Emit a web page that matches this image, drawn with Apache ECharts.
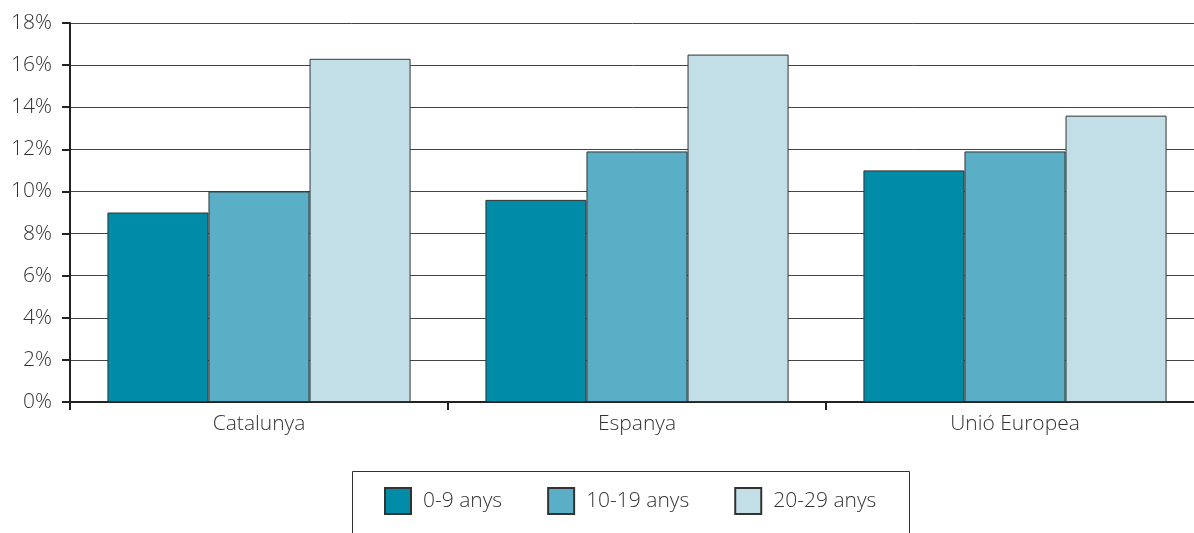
<!DOCTYPE html>
<html><head><meta charset="utf-8">
<script src="https://cdn.jsdelivr.net/npm/echarts@6/dist/echarts.min.js"></script>
<style>html,body{margin:0;padding:0;background:#fff}#c{width:1194px;height:533px}</style>
</head><body><div id="c"></div>
<script>
const categories = ['Catalunya', 'Espanya', 'Unió Europea'];
const seriesNames = ['0-9 anys', '10-19 anys', '20-29 anys'];
const age0_9 = [9.0, 9.6, 11.0];
const age10_19 = [10.0, 11.9, 11.9];
const age20_29 = [16.3, 16.5, 13.6];
const colors = ['#008ba6', '#5aafc7', '#c2dfe7'];
const FONT = '"Open Sans", "DejaVu Sans", sans-serif';

const chart = echarts.init(document.getElementById('c'));
const values = [age0_9, age10_19, age20_29];
chart.setOption({
  animation: false,
  backgroundColor: '#fff',
  textStyle: { fontFamily: FONT, fontWeight: 300 },
  grid: { left: 70, width: 1134, top: 23, bottom: 131, containLabel: false, outerBoundsMode: 'none' },
  legend: {
    left: 379, top: 482, itemWidth: 26, itemHeight: 26, itemGap: 45,
    icon: 'rect',
    textStyle: { fontSize: 21, color: '#333', fontFamily: FONT, fontWeight: 300, padding: [0, 0, 0, 7] },
    data: seriesNames
  },
  graphic: [{
    type: 'polyline', silent: true,
    shape: { points: [[352.5, 540], [352.5, 471.5], [909.5, 471.5], [909.5, 540]] },
    style: { stroke: '#333', lineWidth: 1, fill: null }
  }],
  xAxis: {
    type: 'category', data: categories,
    axisLine: { lineStyle: { color: '#222', width: 2 } },
    axisTick: { show: true, length: 8, lineStyle: { color: '#222', width: 2 } },
    axisLabel: { fontSize: 21, color: '#333', margin: 12, fontFamily: FONT, fontWeight: 300 }
  },
  yAxis: {
    type: 'value', min: 0, max: 18, interval: 2,
    axisLine: { show: true, lineStyle: { color: '#222', width: 2 } },
    axisTick: { show: true, length: 8, lineStyle: { color: '#222', width: 2 } },
    axisLabel: { formatter: '{value}%', fontSize: 21, color: '#333', margin: 18, fontFamily: FONT, fontWeight: 300 },
    splitLine: { lineStyle: { color: '#444', width: 1 } }
  },
  series: seriesNames.map((n, i) => ({
    name: n, type: 'bar', data: values[i],
    barGap: '0%', barCategoryGap: '19.8%',
    itemStyle: { color: colors[i], borderColor: '#333', borderWidth: 1 }
  }))
});
</script></body></html>
